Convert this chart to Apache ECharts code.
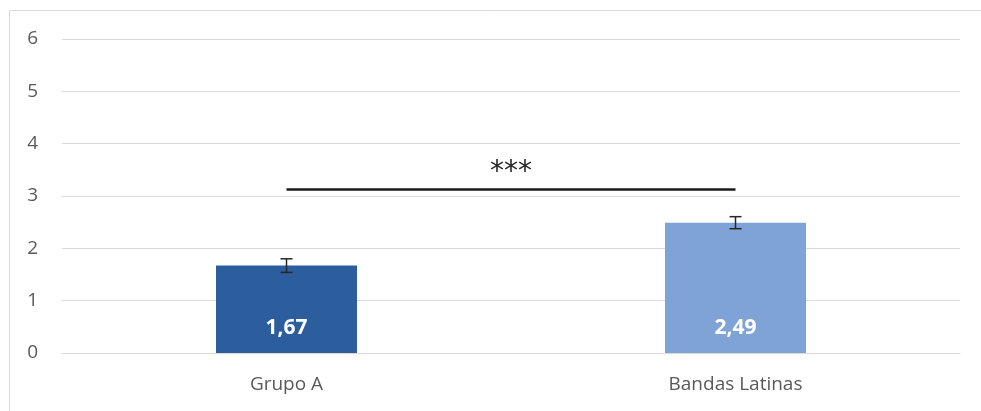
<!DOCTYPE html>
<html><head><meta charset="utf-8">
<script src="https://cdn.jsdelivr.net/npm/echarts@6/dist/echarts.min.js"></script>
<style>html,body{margin:0;padding:0;background:#fff}#c{width:981px;height:411px}</style>
</head><body><div id="c"></div>
<script>
const categories = ['Grupo A', 'Bandas Latinas'];
const means = [1.67, 2.49];
const errors = [0.13, 0.115];
const barColors = ['#2c5e9e', '#7fa3d6'];
const yTicks = [0, 1, 2, 3, 4, 5, 6];
const sigLevel = 3.13;
const sigText = '***';

const chart = echarts.init(document.getElementById('c'));
chart.setOption({
  animation: false,
  graphic: [{type:'rect', shape:{x:9.5,y:10.5,width:1100,height:600}, style:{fill:'none', stroke:'#d9d9d9', lineWidth:1}, silent:true}],
  grid: {left: 62, right: 21, top: 39, bottom: 58},
  xAxis: {
    type: 'category', data: categories,
    axisLine: {show: true, lineStyle: {color: '#d9d9d9', width: 1}},
    axisTick: {show: false},
    axisLabel: {color: '#595959', fontSize: 19, fontFamily: 'Open Sans', margin: 22}
  },
  yAxis: {
    type: 'value', min: yTicks[0], max: yTicks[yTicks.length-1], interval: 1,
    axisLine: {show: false}, axisTick: {show: false},
    axisLabel: {color: '#595959', fontSize: 19, fontFamily: 'Open Sans', margin: 24},
    splitLine: {lineStyle: {color: '#d9d9d9', width: 1}}
  },
  series: [
    {
      type: 'bar', barWidth: '31.4%',
      data: means.map((v, i) => ({value: v, itemStyle: {color: barColors[i]}})),
      label: {
        show: true, position: 'insideBottom', distance: 14,
        color: '#ffffff', fontSize: 21, fontWeight: 'bold', fontFamily: 'Open Sans',
        formatter: p => p.value.toFixed(2).replace('.', ',')
      },
      markLine: {
        symbol: 'none', silent: true,
        lineStyle: {color: '#1a1a1a', width: 2.5, type: 'solid'},
        label: {show: true, position: 'middle', formatter: sigText, color: '#262626', fontSize: 28, fontFamily: 'DejaVu Sans', distance: 2},
        data: [[{coord: [0, sigLevel]}, {coord: [1, sigLevel]}]]
      }
    },
    {
      type: 'custom',
      data: means.map((v, i) => [i, v - errors[i], v + errors[i]]),
      renderItem: (params, api) => {
        const lo = api.coord([api.value(0), api.value(1)]);
        const hi = api.coord([api.value(0), api.value(2)]);
        const hw = 6;
        const st = {stroke: '#262626', lineWidth: 1.5};
        return {type: 'group', children: [
          {type: 'line', shape: {x1: lo[0], y1: lo[1], x2: hi[0], y2: hi[1]}, style: st},
          {type: 'line', shape: {x1: lo[0]-hw, y1: lo[1], x2: lo[0]+hw, y2: lo[1]}, style: st},
          {type: 'line', shape: {x1: hi[0]-hw, y1: hi[1], x2: hi[0]+hw, y2: hi[1]}, style: st}
        ]};
      },
      z: 5
    }
  ]
});
</script></body></html>
